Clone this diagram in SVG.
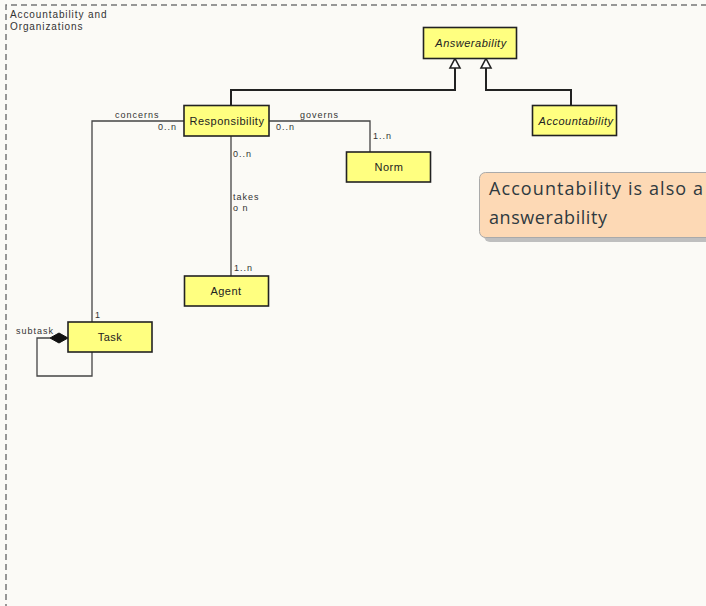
<svg xmlns="http://www.w3.org/2000/svg" width="706" height="606" viewBox="0 0 706 606">
<style>
.node rect{fill:#ffff80;stroke:#222;stroke-width:1.6}
.nt{font-family:"Liberation Sans",Arial,sans-serif;font-size:11px;letter-spacing:0.5px;fill:#222;text-anchor:middle}
.it{font-style:italic}
.lbl{font-family:"Liberation Sans",Arial,sans-serif;font-size:9px;letter-spacing:1px;fill:#333}
.assoc{fill:none;stroke:#444;stroke-width:1.3}
.gen{fill:none;stroke:#222;stroke-width:2}
.frame{fill:none;stroke:#777;stroke-width:1.5;stroke-dasharray:6 4}
</style>
<defs>
<marker id="tri" viewBox="0 0 12 10" refX="6" refY="0" markerWidth="12" markerHeight="10" markerUnits="userSpaceOnUse" orient="auto-start-reverse">
<path d="M6,0 L11,9.5 L1,9.5 Z" fill="#fff" stroke="#222" stroke-width="1.6"/>
</marker>
</defs>
<rect x="0" y="0" width="706" height="606" fill="#fbfaf6"/>
<g id="frame">
<path class="frame" d="M6,610 L6,5 L712,5"/>
<text x="10" y="18" font-family="Liberation Sans,Arial,sans-serif" font-size="10" letter-spacing="0.9" fill="#333">Accountability and</text>
<text x="10" y="30" font-family="Liberation Sans,Arial,sans-serif" font-size="10" letter-spacing="0.9" fill="#333">Organizations</text>
</g>
<g id="connectors">
<path class="gen" d="M231,106 L231,90 L455,90 L455,68"/>
<path d="M455,58.5 L460,68 L450,68 Z" fill="#fff" stroke="#222" stroke-width="1.6"/>
<path class="gen" d="M571,106 L571,90 L486,90 L486,68"/>
<path d="M486,58.5 L491,68 L481,68 Z" fill="#fff" stroke="#222" stroke-width="1.6"/>
<path class="assoc" d="M184,121 L92,121 L92,322"/>
<text class="lbl" x="115" y="118">concerns</text>
<text class="lbl" x="158" y="130">0..n</text>
<text class="lbl" x="95" y="318">1</text>
<path class="assoc" d="M269,121 L370,121 L370,152"/>
<text class="lbl" x="300" y="118">governs</text>
<text class="lbl" x="276" y="130">0..n</text>
<text class="lbl" x="373" y="139">1..n</text>
<path class="assoc" d="M231,136 L231,276"/>
<text class="lbl" x="233" y="157">0..n</text>
<text class="lbl" x="233" y="200" letter-spacing="0.5">takes</text>
<text class="lbl" x="233" y="211" letter-spacing="0.5">o n</text>
<text class="lbl" x="234" y="271">1..n</text>
<path class="assoc" d="M50,338 L37,338 L37,376 L92,376 L92,352"/>
<path d="M50,338 L59,333 L68,338 L59,343 Z" fill="#111" stroke="#111" stroke-width="1"/>
<text class="lbl" x="16" y="334" letter-spacing="0.3">subtask</text>
</g>
<g id="Answerability" class="node">
<rect x="423.5" y="27.5" width="93" height="31"/>
<text class="nt it" x="471" y="47">Answerability</text>
</g>
<g id="Accountability" class="node">
<rect x="532.5" y="105.5" width="84" height="30"/>
<text class="nt it" x="576" y="125" letter-spacing="0.3">Accountability</text>
</g>
<g id="Responsibility" class="node">
<rect x="184" y="105.5" width="85" height="30.5"/>
<text class="nt" x="227" y="125">Responsibility</text>
</g>
<g id="Norm" class="node">
<rect x="346.5" y="152" width="84" height="30"/>
<text class="nt" x="389" y="171">Norm</text>
</g>
<g id="Agent" class="node">
<rect x="184.5" y="276" width="84" height="30"/>
<text class="nt" x="226" y="295">Agent</text>
</g>
<g id="Task" class="node">
<rect x="68" y="322" width="84" height="30"/>
<text class="nt" x="110" y="341">Task</text>
</g>
<g id="note">
<rect x="484" y="177" width="240" height="65" rx="6" fill="#bfbfbf"/>
<rect x="479.5" y="172.5" width="240" height="65" rx="6" fill="#fdd9b5" stroke="#aaa" stroke-width="1"/>
<text x="489" y="195" font-family="Open Sans,Noto Sans,sans-serif" font-size="18" fill="#2f3a40" textLength="214">Accountability is also a</text>
<text x="489" y="224" font-family="Open Sans,Noto Sans,sans-serif" font-size="18" fill="#2f3a40" textLength="118">answerability</text>
</g>
</svg>
